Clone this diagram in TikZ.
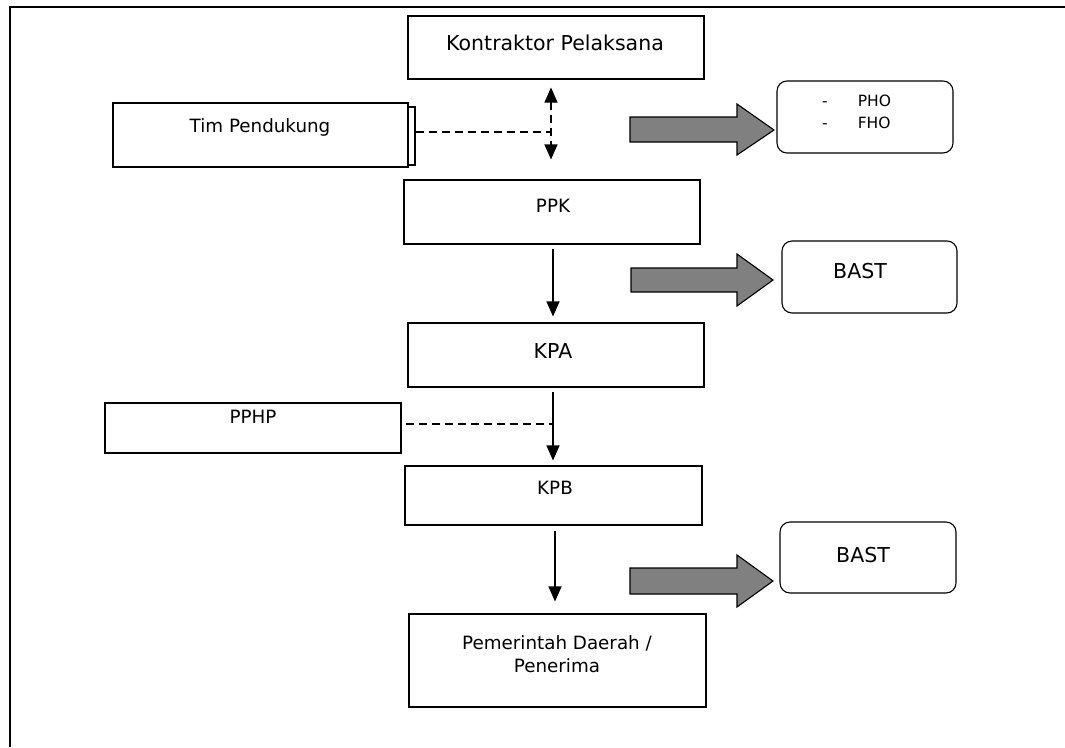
\documentclass[tikz,border=0pt]{standalone}
\usepackage{fontspec}
\setmainfont{DejaVu Sans}
\usetikzlibrary{arrows.meta}
\definecolor{arrgray}{RGB}{128,128,128}
\begin{document}
\begin{tikzpicture}[x=1pt,y=-1pt,
  box/.style={draw=black,line width=1.1pt,fill=white,inner sep=0pt,anchor=center},
  rbox/.style={box,rounded corners=10pt},
  txt/.style={inner sep=0pt,anchor=base,text=black},
  big/.style={font=\fontsize{20.5}{24}\selectfont},
  mid/.style={font=\fontsize{18.3}{22}\selectfont},
  sml/.style={font=\fontsize{15.5}{19}\selectfont},
  conn/.style={line width=1.1pt,-{Triangle[width=13pt,length=15pt]}},
  dconn/.style={line width=1.1pt,dash pattern=on 8pt off 5pt},
  fat/.style={draw=black,line width=1.1pt,fill=arrgray,line join=miter},
  frame/.style={line width=1.8pt}]
\useasboundingbox (0,0) rectangle (1065,747);
\draw[frame] (1065,7) -- (10,7) -- (10,747);

% boxes
\node[box,minimum width=296pt,minimum height=63pt] (kp) at (556,47.5) {};
\node[box,minimum width=295pt,minimum height=58pt] (timsh) at (267.5,136) {};
\node[box,minimum width=295pt,minimum height=64pt] (tim) at (260.5,135) {};
\node[rbox,minimum width=176pt,minimum height=72pt] (pho) at (865,117) {};
\node[box,minimum width=296pt,minimum height=64pt] (ppk) at (552,212) {};
\node[rbox,minimum width=175pt,minimum height=72pt] (bast1) at (869.5,277) {};
\node[box,minimum width=296pt,minimum height=64pt] (kpa) at (556,355) {};
\node[box,minimum width=296pt,minimum height=50pt] (pphp) at (253,428) {};
\node[box,minimum width=297pt,minimum height=59pt] (kpb) at (553.5,495.5) {};
\node[rbox,minimum width=176pt,minimum height=71pt] (bast2) at (868,557.5) {};
\node[box,minimum width=297pt,minimum height=93pt] (pem) at (557.5,660.5) {};

% texts
\node[txt,big] (kpt) at (555,50) {Kontraktor Pelaksana};
\node[txt,mid] (timt) at (260,132) {Tim Pendukung};
\node[txt,sml,anchor=base west] (pho1) at (822,106) {-\hspace{30pt}PHO};
\node[txt,sml,anchor=base west] (pho2) at (822,128) {-\hspace{30pt}FHO};
\node[txt,mid] (ppkt) at (553,212) {PPK};
\node[txt,big] (bast1t) at (860,278) {BAST};
\node[txt,big] (kpat) at (553,358) {KPA};
\node[txt,mid] (pphpt) at (253,423) {PPHP};
\node[txt,mid] (kpbt) at (555,494) {KPB};
\node[txt,big] (bast2t) at (863,562) {BAST};
\node[txt,mid] (pemt1) at (557,649) {Pemerintah Daerah /};
\node[txt,mid] (pemt2) at (557,672) {Penerima};

% connectors
\coordinate (j1) at (551,132);
\draw[dconn,{Triangle[width=13pt,length=15pt]}-{Triangle[width=13pt,length=15pt]},shorten <=8pt,shorten >=20pt]
  (kp.south -| j1) -- (ppk.north -| j1);
\draw[dconn] (timsh.east |- j1) -- (j1);
\draw[conn,shorten <=4pt,shorten >=6pt] (553,0 |- ppk.south) -- (553,0 |- kpa.north);
\coordinate (j2) at (553,424);
\draw[conn,shorten <=4pt,shorten >=5pt] (553,0 |- kpa.south) -- (553,0 |- kpb.north);
\draw[dconn,shorten <=4pt] (pphp.east |- j2) -- (j2);
\draw[conn,shorten <=5pt,shorten >=12pt] (555,0 |- kpb.south) -- (555,0 |- pem.north);

% big arrows
\draw[fat] (630,117) -- (737,117) -- (737,104) -- (774,130) -- (737,155) -- (737,142) -- (630,142) -- cycle;
\draw[fat] (631,268) -- (737,268) -- (737,254) -- (773,280) -- (737,306) -- (737,292) -- (631,292) -- cycle;
\draw[fat] (630,568) -- (737,568) -- (737,555) -- (773,581) -- (737,607) -- (737,594) -- (630,594) -- cycle;
\end{tikzpicture}
\end{document}
